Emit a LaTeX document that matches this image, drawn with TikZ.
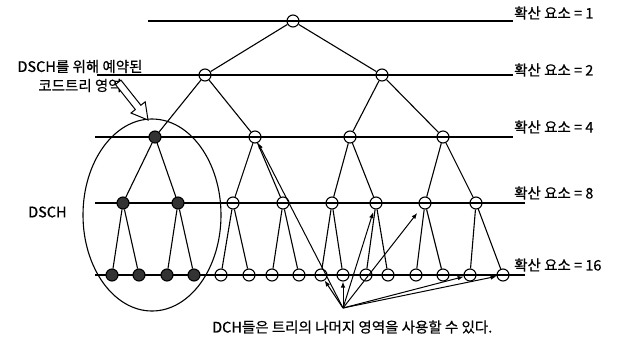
\documentclass[tikz,border=0pt]{standalone}
\usepackage{fontspec}
\setmainfont{Noto Sans CJK KR}[FakeBold=0.6]
\usepackage{tikz}
\usetikzlibrary{arrows.meta,shapes.geometric}

\tikzset{
  ch/.style={circle, draw, line width=1.1pt, minimum size=12pt, inner sep=0pt},
  dsch/.style={ch, fill=black!80},
  lvl/.style={line width=1.1pt},
  edge/.style={line width=1.1pt},
  dcharrow/.style={line width=1pt, -{Latex[length=6pt,width=4.5pt]}},
  lbl/.style={font=\fontsize{14.5}{19}\selectfont, inner sep=0pt}
}

\begin{document}
\begin{tikzpicture}[x=1pt,y=-1pt]
\useasboundingbox (0,0) rectangle (622,341);

% spreading factor levels
\draw[lvl] (148,21) -- (513,21);
\draw[lvl] (97,75) -- (513,75);
\draw[lvl] (95,137) -- (513,137);
\draw[lvl] (95,203) -- (525,203);
\draw[lvl] (95,275) -- (525,275);

\node[lbl, anchor=west] (sf1) at (514,13) {확산 요소 = 1};
\node[lbl, anchor=west] (sf2) at (514,70) {확산 요소 = 2};
\node[lbl, anchor=west] (sf4) at (514,127) {확산 요소 = 4};
\node[lbl, anchor=west] (sf8) at (514,193) {확산 요소 = 8};
\node[lbl, anchor=west] (sf16) at (514,265) {확산 요소 = 16};

% code tree
\node[ch] (N1) at (293,21) {};

\node[ch] (N2a) at (205,75) {};
\node[ch] (N2b) at (382,75) {};

\node[dsch] (N4a) at (155,137) {};
\node[ch] (N4b) at (255,137) {};
\node[ch] (N4c) at (350,137) {};
\node[ch] (N4d) at (443,137) {};

\node[dsch] (N8a) at (123,203) {};
\node[dsch] (N8b) at (178,203) {};
\node[ch] (N8c) at (233,203) {};
\node[ch] (N8d) at (283,203) {};
\node[ch] (N8e) at (332,203) {};
\node[ch] (N8f) at (376,203) {};
\node[ch] (N8g) at (425,203) {};
\node[ch] (N8h) at (476,203) {};

\node[dsch] (N16a) at (112,275) {};
\node[dsch] (N16b) at (139,275) {};
\node[dsch] (N16c) at (167,275) {};
\node[dsch] (N16d) at (194,275) {};
\node[ch] (N16e) at (221,275) {};
\node[ch] (N16f) at (249,275) {};
\node[ch] (N16g) at (272,275) {};
\node[ch] (N16h) at (299,275) {};
\node[ch] (N16i) at (321,275) {};
\node[ch] (N16j) at (343,275) {};
\node[ch] (N16k) at (366,275) {};
\node[ch] (N16l) at (388,275) {};
\node[ch] (N16m) at (416,275) {};
\node[ch] (N16n) at (443,275) {};
\node[ch] (N16o) at (470,275) {};
\node[ch] (N16p) at (503,275) {};

\draw[edge] (N1) -- (N2a) (N1) -- (N2b);
\draw[edge] (N2a) -- (N4a) (N2a) -- (N4b) (N2b) -- (N4c) (N2b) -- (N4d);
\draw[edge] (N4a) -- (N8a) (N4a) -- (N8b) (N4b) -- (N8c) (N4b) -- (N8d);
\draw[edge] (N4c) -- (N8e) (N4c) -- (N8f) (N4d) -- (N8g) (N4d) -- (N8h);
\draw[edge] (N8a) -- (N16a) (N8a) -- (N16b) (N8b) -- (N16c) (N8b) -- (N16d);
\draw[edge] (N8c) -- (N16e) (N8c) -- (N16f) (N8d) -- (N16g) (N8d) -- (N16h);
\draw[edge] (N8e) -- (N16i) (N8e) -- (N16j) (N8f) -- (N16k) (N8f) -- (N16l);
\draw[edge] (N8g) -- (N16m) (N8g) -- (N16n) (N8h) -- (N16o) (N8h) -- (N16p);

% reserved DSCH region
\node[draw, ellipse, line width=1.1pt, minimum width=138pt, minimum height=192pt, inner sep=0pt] (zone) at (152,215) {};
\node[lbl, align=center] (rsv) at (80,76) {DSCH를 위해 예약된\\코드트리 영역};
\node[lbl, anchor=west] (dschlbl) at (28,212) {DSCH};
\draw[line width=1pt, fill=white] (115.45,84.47) -- (135.35,109.57) -- (131.0,113.0) -- (148,120)
  -- (145.2,101.8) -- (140.85,105.23) -- (120.95,80.13) -- cycle;

% DCH arrows
\node[lbl, anchor=west] (note) at (212,327) {DCH들은 트리의 나머지 영역을 사용할 수 있다.};
\coordinate (src) at (343,308);
\draw[dcharrow] (src) -- (N16i);
\draw[dcharrow] (src) -- (N16j);
\draw[dcharrow] (src) -- (N4b);
\draw[dcharrow, shorten >=3pt] (src) -- (N8f);
\draw[dcharrow, shorten >=6pt] (src) -- (N8g);
\draw[dcharrow] (src) -- (N16o);
\draw[dcharrow] (src) -- (N16p);
\end{tikzpicture}
\end{document}
